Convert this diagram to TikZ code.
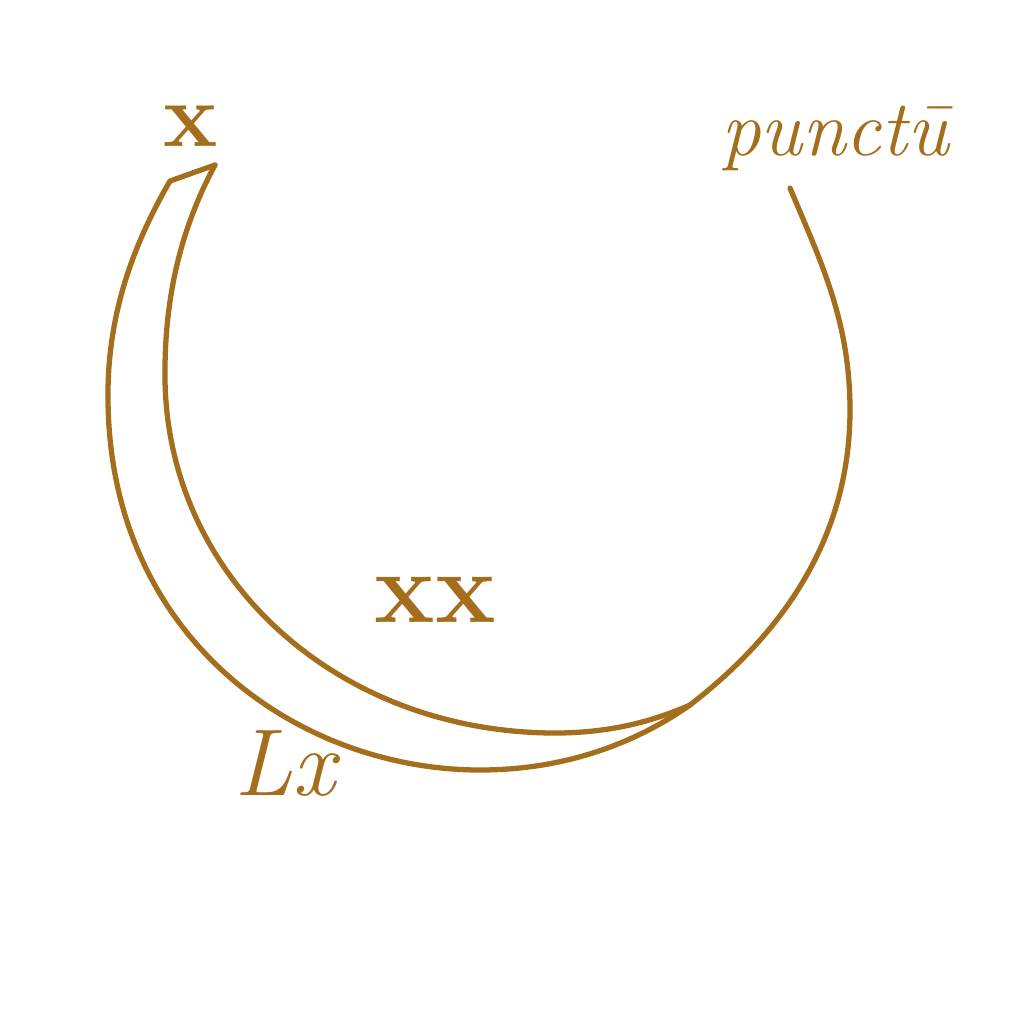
\documentclass[tikz,border=0pt]{standalone}
\usepackage{fontspec}
\usepackage{tikz}
\usetikzlibrary{positioning}
\definecolor{ochre}{HTML}{A46E1C}

\begin{document}
\begin{tikzpicture}
    [x=0.01cm, y=-0.01cm,
     curve/.style={draw=ochre, line width=1.5pt, line join=round, line cap=round},
     label/.style={text=ochre, inner sep=0pt}]
    \useasboundingbox (0, 0) rectangle (1024, 1024);

    % labels
    \node (x) [label, font=\fontsize{26}{26}\selectfont\bfseries] at (191, 126) {x};
    \node (punctum) [label, font=\fontsize{22.5}{22.5}\selectfont\itshape] at (835, 138) {punctū};
    \node (xx) [label, font=\fontsize{29}{29}\selectfont\bfseries] at (435, 600) {xx};
    \node (Lx) [label, font=\fontsize{27}{27}\selectfont\itshape] at (285, 764) {Lx};

    % crescent
    \coordinate (tipout) at (170, 181);
    \coordinate (tipin) at (215, 165);
    \coordinate (outleft) at (108, 400);
    \coordinate (outbottom) at (480, 770);
    \coordinate (inleft) at (165, 380);
    \coordinate (inbottom) at (560, 733);
    \coordinate (join) at (690, 705);
    \coordinate (right) at (850, 410);
    \coordinate (endright) at (790, 188);

    \draw [curve] (tipin) -- (tipout)
      .. controls (130, 250) and (107, 320) .. (outleft)
      .. controls (110, 640) and (300, 770) .. (outbottom)
      .. controls (570, 770) and (640, 740) .. (join);
    \draw [curve] (tipin)
      .. controls (180, 230) and (164, 300) .. (inleft)
      .. controls (168, 580) and (340, 735) .. (inbottom)
      .. controls (620, 732) and (660, 718) .. (join);
    % big arc
    \draw [curve] (join)
      .. controls (800, 620) and (850, 520) .. (right)
      .. controls (850, 320) and (820, 260) .. (endright);
\end{tikzpicture}
\end{document}
